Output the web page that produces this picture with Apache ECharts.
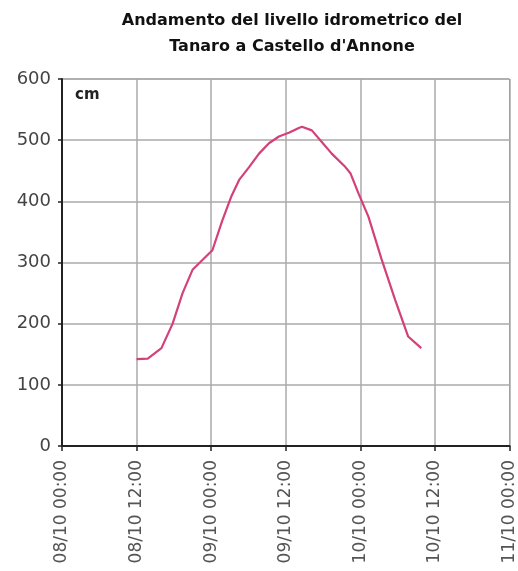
<!DOCTYPE html>
<html>
<head>
<meta charset="utf-8">
<script src="https://cdn.jsdelivr.net/npm/echarts@6/dist/echarts.min.js"></script>
<style>html,body{margin:0;padding:0;background:#fff;}#c{width:518px;height:571px;}</style>
</head>
<body>
<div id="c"></div>
<script>
// hours since 08/10 00:00
var hours = [12.0, 13.8, 16.0, 17.8, 19.4, 21.0, 23.7, 24.2, 25.8, 27.2, 28.5, 30.1, 31.7, 33.3, 34.9, 36.5, 38.1, 38.6, 40.2, 41.8, 43.4, 45.6, 46.4, 47.7, 49.3, 51.4, 53.6, 55.7, 57.8];
var levels = [142, 143, 160, 200, 250, 288, 315, 320, 369, 407, 435, 456, 478, 495, 506, 512, 520, 522, 516, 497, 478, 456, 446, 413, 375, 306, 239, 179, 160];
var xTickLabels = ["08/10 00:00", "08/10 12:00", "09/10 00:00", "09/10 12:00", "10/10 00:00", "10/10 12:00", "11/10 00:00"];
var yTicks = [0, 100, 200, 300, 400, 500, 600];
var titleLines = ["Andamento del livello idrometrico del", "Tanaro a Castello d'Annone"];
var unitLabel = "cm";

var data = hours.map(function (h, i) { return [h, levels[i]]; });
var chart = echarts.init(document.getElementById('c'));
chart.setOption({
  animation: false,
  backgroundColor: '#fff',
  title: {
    text: titleLines.join('\n'),
    left: 287, textAlign: 'center', top: 3,
    textStyle: { fontFamily: 'DejaVu Sans', fontWeight: 'bold', fontSize: 16, lineHeight: 26, color: '#111' }
  },
  grid: { left: 62, right: 6, top: 79, bottom: 125, show: true, borderColor: '#888', borderWidth: 1 },
  xAxis: {
    type: 'value', min: 0, max: 72, interval: 12,
    axisLine: { show: true, lineStyle: { color: '#222', width: 2 } },
    axisTick: { show: true, length: 5, lineStyle: { color: '#222', width: 1.5 } },
    splitLine: { show: true, lineStyle: { color: '#aaa', width: 1.5 } },
    axisLabel: {
      rotate: 90, margin: 14, fontFamily: 'DejaVu Sans', fontSize: 17, color: '#555',
      formatter: function (v) { return xTickLabels[Math.round(v / 12)]; }
    }
  },
  yAxis: {
    type: 'value', min: 0, max: 600, interval: 100,
    axisLine: { show: true, lineStyle: { color: '#222', width: 2 } },
    axisTick: { show: true, length: 4, lineStyle: { color: '#222', width: 1.5 } },
    splitLine: { show: true, lineStyle: { color: '#aaa', width: 1.5 } },
    axisLabel: {
      margin: 11, fontFamily: 'DejaVu Sans', fontSize: 18, color: '#444',
      formatter: function (v) { return yTicks.indexOf(v) >= 0 ? String(v) : ''; }
    }
  },
  graphic: [{
    type: 'text', left: 75, top: 88,
    style: { text: unitLabel, fontFamily: 'DejaVu Sans', fontWeight: 'bold', fontSize: 15, fill: '#222' }
  }],
  series: [{
    type: 'line', data: data, showSymbol: false, symbol: 'none',
    lineStyle: { color: '#d4407a', width: 2.2 }
  }]
});
</script>
</body>
</html>
